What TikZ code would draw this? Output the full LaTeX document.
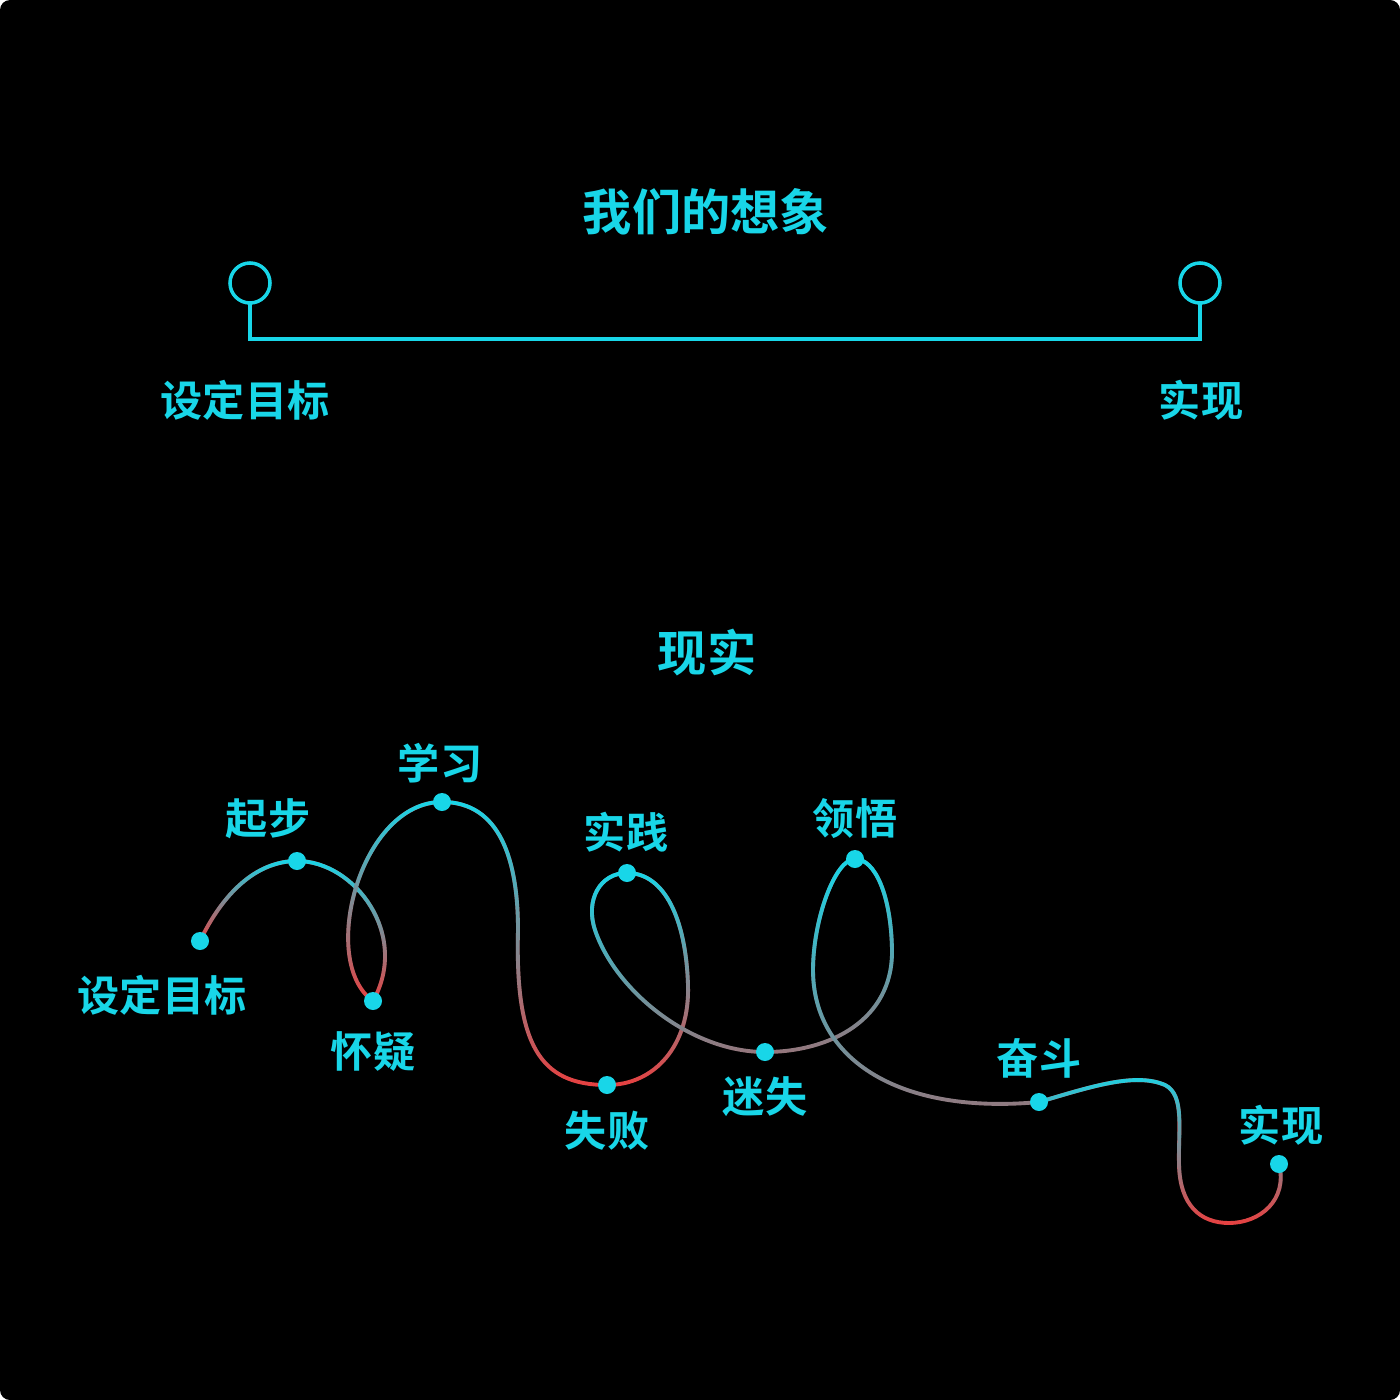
\documentclass[tikz,border=0pt]{standalone}
\usepackage{fontspec}
\newfontfamily\cjk{Noto Sans CJK SC}[BoldFont={Noto Sans CJK SC Bold}]
\usetikzlibrary{fadings}

\definecolor{cyanc}{RGB}{24,214,232}
\definecolor{redc}{RGB}{232,64,64}
\definecolor{dimc}{RGB}{150,118,124}

% cyan on top, fading out towards the bottom
\tikzfading[name=fade low, top color=transparent!0, middle color=transparent!40,
    bottom color=transparent!100]

\begin{document}
\begin{tikzpicture}[x=0.01cm,y=-0.01cm,
    head/.style={text=cyanc, font=\cjk\bfseries\fontsize{14pt}{16pt}\selectfont},
    tag/.style={text=cyanc, font=\cjk\bfseries\fontsize{12pt}{14pt}\selectfont},
    plan/.style={draw=cyanc, line width=1pt},
    road/.style={line width=1.1pt, line cap=round, draw=#1,
        postaction={draw=cyanc, path fading=fade low}}]

        % Background
        \fill[black, rounded corners=0.1cm] (0,0) rectangle (1400,1400);

        % Our imagination
        \node[head] (dreamtitle) at (706,212) {我们的想象};
        \coordinate (goalA) at (250,283);
        \coordinate (doneA) at (1200,283);
        \draw[plan] (goalA) circle (0.2cm);
        \draw[plan] (doneA) circle (0.2cm);
        \draw[plan] ([yshift=-0.2cm]goalA) -- ++(0,36) -| ([yshift=-0.2cm]doneA);
        \node[tag] (goalAtxt) at (245,400) {设定目标};
        \node[tag] (doneAtxt) at (1201,400) {实现};

        % Reality
        \node[head] (realtitle) at (707,653) {现实};

        % Points on the road
        \coordinate (goal) at (200,941);
        \coordinate (start) at (297,861);
        \coordinate (doubt) at (373,1001);
        \coordinate (learn) at (442,802);
        \coordinate (fail) at (607,1085);
        \coordinate (practice) at (627,873);
        \coordinate (lost) at (765,1052);
        \coordinate (insight) at (855,859);
        \coordinate (strive) at (1039,1102);
        \coordinate (done) at (1279,1164);

        % Draw the road, one piece at a time
        \draw[road=redc] (goal) .. controls (222,895) and (255,861) .. (start);
        \draw[road=redc] (start) .. controls (355,861) and (410,935) .. (doubt);
        \draw[road=redc] (doubt) .. controls (318,962) and (360,802) .. (learn);
        \draw[road=redc] (learn) .. controls (500,802) and (518,860) .. (518,930)
            .. controls (515,1045) and (540,1085) .. (fail);
        \draw[road=redc] (fail) .. controls (655,1085) and (690,1045) .. (688,985)
            .. controls (686,920) and (665,873) .. (practice);
        \draw[road=dimc] (practice) .. controls (600,873) and (585,900) .. (595,930)
            .. controls (615,990) and (690,1052) .. (lost);
        \draw[road=dimc] (lost) .. controls (830,1052) and (893,1020) .. (892,950)
            .. controls (891,895) and (875,859) .. (insight);
        \draw[road=dimc] (insight) .. controls (835,859) and (813,920) .. (813,970)
            .. controls (813,1060) and (900,1115) .. (strive);
        \draw[road=redc] (strive) .. controls (1090,1087) and (1135,1072) .. (1165,1085)
            .. controls (1185,1095) and (1178,1130) .. (1179,1165)
            .. controls (1180,1205) and (1200,1223) .. (1229,1223)
            .. controls (1260,1223) and (1288,1200) .. (done);

        % Dots
        \foreach \p in {goal,start,doubt,learn,fail,practice,lost,insight,strive,done}
            \fill[cyanc] (\p) circle (0.09cm);

        % Labels
        \node[tag] (goaltxt) at (162,995) {设定目标};
        \node[tag] (starttxt) at (268,819) {起步};
        \node[tag] (doubttxt) at (373,1052) {怀疑};
        \node[tag] (learntxt) at (440,763) {学习};
        \node[tag] (failtxt) at (607,1130) {失败};
        \node[tag] (practicetxt) at (626,832) {实践};
        \node[tag] (losttxt) at (765,1097) {迷失};
        \node[tag] (insighttxt) at (855,819) {领悟};
        \node[tag] (strivetxt) at (1039,1058) {奋斗};
        \node[tag] (donetxt) at (1281,1125) {实现};
\end{tikzpicture}
\end{document}
